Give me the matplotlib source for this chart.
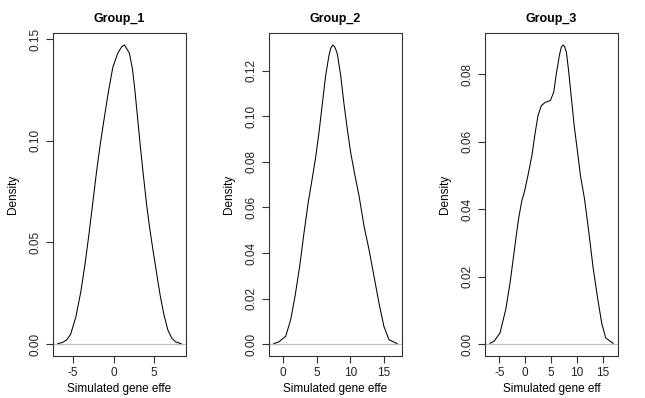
import matplotlib
matplotlib.use("Agg")
import matplotlib.pyplot as plt

# valeurs (densité estimée)
titres = ["Group_1", "Group_2", "Group_3"]

x_g1 = [-6.87, -6.3, -5.8, -5.3, -4.64, -4.04, -3.5, -3.05, -2.55, -2.08, -1.6,
        -1.1, -0.6, -0.1, 0.5, 1.0, 1.35, 1.95, 2.32, 2.63, 3.0, 3.3, 3.7, 4.1,
        4.5, 4.9, 5.35, 5.8, 6.25, 6.7, 7.2, 7.7, 8.34]
y_g1 = [0.0002, 0.0008, 0.0020, 0.0048, 0.0136, 0.0258, 0.0400, 0.0537, 0.0700,
        0.0855, 0.0995, 0.1125, 0.1250, 0.1360, 0.1430, 0.1463, 0.1472, 0.1432,
        0.1358, 0.1252, 0.1100, 0.0975, 0.0825, 0.0680, 0.0560, 0.0455, 0.0340,
        0.0230, 0.0140, 0.0070, 0.0028, 0.0010, 0.0002]

x_g2 = [-1.35, -0.6, 0.4, 1.14, 1.78, 2.48, 3.12, 3.76, 4.3, 4.8, 5.35, 5.84,
        6.34, 6.83, 7.1, 7.4, 7.7, 8.07, 8.57, 9.06, 9.55, 10.05, 10.7, 11.3,
        12.04, 12.78, 13.52, 14.26, 15.0, 15.75, 16.95]
y_g2 = [0.0002, 0.001, 0.0034, 0.0107, 0.0209, 0.0342, 0.0489, 0.0625, 0.0720,
        0.0810, 0.0930, 0.1055, 0.1180, 0.1268, 0.1300, 0.1314, 0.1305, 0.1275,
        0.1180, 0.1055, 0.0945, 0.0842, 0.0739, 0.0651, 0.0518, 0.0415, 0.0298,
        0.0180, 0.0077, 0.0019, 0.0002]

x_g3 = [-6.8, -6.0, -4.86, -3.76, -2.92, -2.08, -1.31, -0.65, -0.14, 0.52, 1.29,
        1.94, 2.46, 3.1, 3.88, 4.85, 5.5, 5.95, 6.59, 6.95, 7.3, 7.6, 7.95, 8.4,
        8.92, 9.44, 10.02, 10.66, 11.45, 12.28, 13.06, 13.91, 14.75, 15.52, 16.94]
y_g3 = [0.0002, 0.0008, 0.0033, 0.0102, 0.0181, 0.0280, 0.0369, 0.0425, 0.0452,
        0.0499, 0.0559, 0.0628, 0.0677, 0.0707, 0.0717, 0.0722, 0.0747, 0.0796,
        0.0856, 0.0880, 0.0887, 0.0882, 0.0865, 0.0806, 0.0727, 0.0648, 0.0578,
        0.0499, 0.0429, 0.0330, 0.0230, 0.0141, 0.0062, 0.0018, 0.0002]

xticks = [[-5, 0, 5], [0, 5, 10, 15], [-5, 0, 5, 10, 15]]
yticks = [[0.00, 0.05, 0.10, 0.15],
          [0.00, 0.02, 0.04, 0.06, 0.08, 0.10, 0.12],
          [0.00, 0.02, 0.04, 0.06, 0.08]]
xlabels = ["Simulated gene effe", "Simulated gene effe", "Simulated gene eff"]

plt.rcParams["font.family"] = ["Liberation Sans", "DejaVu Sans"]
plt.rcParams["font.size"] = 8.5

fig = plt.figure(figsize=(6.45, 3.98), dpi=100)
gauches = [53 / 645, 269 / 645, 485 / 645]

series = [(x_g1, y_g1), (x_g2, y_g2), (x_g3, y_g3)]
for i, (xs, ys) in enumerate(series):
    ax = fig.add_axes([gauches[i], 42 / 398, 133 / 645, 323 / 398])
    ax.axhline(0, color="#bebebe", lw=0.9, zorder=1)
    ax.plot(xs, ys, color="black", lw=0.75, zorder=2)

    # marges de 4 % comme dans R
    dx = (max(xs) - min(xs)) * 0.04
    dy = (max(ys) - 0) * 0.04
    ax.set_xlim(min(xs) - dx, max(xs) + dx)
    ax.set_ylim(-dy, max(ys) + dy)

    ax.set_xticks(xticks[i])
    ax.set_xticklabels([str(t) for t in xticks[i]])
    ax.set_yticks(yticks[i])
    ax.set_yticklabels(["%.2f" % t for t in yticks[i]], rotation=90, va="center")
    ax.tick_params(direction="out", length=5, width=0.8, color="#333333",
                   pad=3, labelcolor="#222222")

    for s in ax.spines.values():
        s.set_linewidth(0.8)
        s.set_color("#333333")

    ax.set_title(titres[i], fontweight="bold", fontsize=9, pad=8)
    ax.set_xlabel(xlabels[i], labelpad=3)
    ax.set_ylabel("Density", labelpad=8)

fig.savefig("out.png", dpi=100)
